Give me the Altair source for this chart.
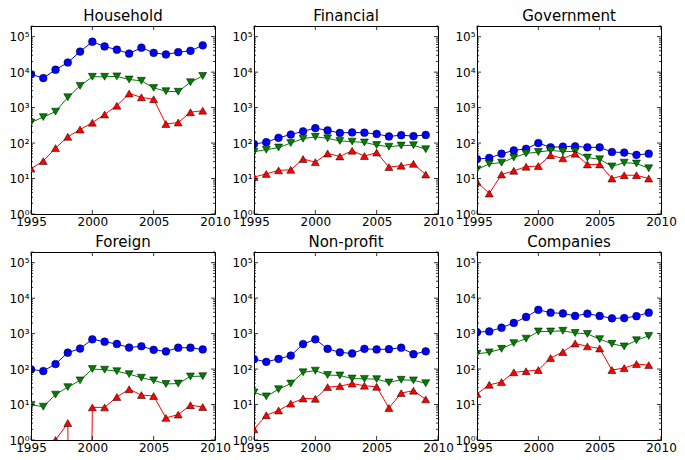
import altair as alt
import pandas as pd

years = list(range(1995, 2010))
series_names = ["circle series", "down series", "up series"]
series_colors = ["#0000ff", "#008000", "#ff0000"]
series_shapes = ["circle", "triangle-down", "triangle-up"]
series_sizes = [60, 64, 64]

household_circle = [8700, 6800, 11700, 18700, 38000, 72000, 53000, 43000, 33500, 49000, 35000, 31500, 36500, 40000, 57000]
household_down = [380, 540, 770, 1950, 4100, 7400, 7400, 7600, 6200, 5700, 3600, 2900, 2800, 5200, 7800]
household_up = [19, 31, 72, 150, 240, 375, 640, 1130, 2500, 1950, 1720, 345, 380, 740, 820]

financial_circle = [94, 106, 141, 174, 214, 264, 228, 193, 200, 196, 181, 154, 167, 157, 170]
financial_down = [57, 65, 75, 100, 133, 150, 136, 115, 110, 104, 88, 79, 85, 87, 67]
financial_up = [11, 13.5, 17, 17.6, 35.5, 29, 51, 42, 61, 43, 54, 21, 23, 26, 13]

government_circle = [35.5, 38, 50, 62, 69, 100, 76, 79, 81, 76, 76, 56, 54, 46.5, 50]
government_down = [18, 26, 28, 39, 51, 56, 62, 58, 58, 39, 35, 22, 28, 26.5, 19.5]
government_up = [8, 3.8, 13, 16.5, 21.6, 22.5, 45.5, 37, 50, 25, 25, 10, 12.4, 12.4, 10]

foreign_circle = [98, 88, 139, 290, 380, 690, 590, 510, 405, 440, 350, 315, 400, 400, 357]
foreign_down = [9.8, 8.7, 19, 31, 48, 100, 96, 87, 72, 57, 48, 38, 39, 62, 63]
foreign_up = [0, 0, 1, 3, 0, 8.3, 8.3, 16.3, 27, 18.5, 17.4, 4.2, 5.2, 9.6, 8.5]

nonprofit_circle = [190, 160, 194, 240, 507, 690, 372, 296, 275, 372, 357, 364, 400, 263, 316]
nonprofit_down = [22, 17, 27, 39, 81, 90, 68, 66, 54, 53, 52, 42, 50, 48, 40]
nonprofit_up = [2.0, 5.0, 6.8, 10.6, 14.8, 14.5, 31, 33, 39, 34, 31.6, 8, 21, 24.6, 14]

companies_circle = [1100, 1150, 1470, 2000, 2950, 4700, 3900, 3700, 3150, 3650, 3150, 2700, 2750, 3100, 3900]
companies_down = [270, 296, 372, 540, 720, 1150, 1150, 1200, 1040, 980, 700, 515, 435, 650, 860]
companies_up = [20, 36, 43, 81, 87, 94, 205, 303, 527, 437, 380, 94, 107, 139, 129]

panel_titles = ["Household", "Financial", "Government", "Foreign", "Non-profit", "Companies"]
panel_data = [
    (household_circle, household_down, household_up),
    (financial_circle, financial_down, financial_up),
    (government_circle, government_down, government_up),
    (foreign_circle, foreign_down, foreign_up),
    (nonprofit_circle, nonprofit_down, nonprofit_up),
    (companies_circle, companies_down, companies_up),
]

x_tick_values = [1995, 2000, 2005, 2010]
y_major_values = [1, 10, 100, 1000, 10000, 100000]
y_minor_values = [m * 10 ** k for k in range(0, 5) for m in range(2, 10)] + [200000]

W = 184
H = 188
FONT = "DejaVu Sans"

xscale = alt.Scale(domain=[1995, 2010], nice=False, zero=False)
yscale = alt.Scale(type="log", domain=[1, 200000], nice=False)

sup_expr = "'10' + ['\u2070','\u00b9','\u00b2','\u00b3','\u2074','\u2075'][round(log(datum.value)/LN10)]"

xaxis = alt.Axis(values=x_tick_values, format="d", labelFlush=False, labelBound=False,
                 labelOverlap=False, labelPadding=2)
yaxis = alt.Axis(values=y_major_values, labelExpr=sup_expr, labelOverlap=False,
                 labelFlush=False, labelBound=False, labelPadding=2)
X = alt.X("year:Q", scale=xscale, title=None, axis=xaxis)
Y = alt.Y("yv:Q", scale=yscale, title=None, axis=yaxis)


def tick_layers():
    xt = pd.DataFrame({"year": x_tick_values})
    ymaj = pd.DataFrame({"yv": y_major_values})
    ymin = pd.DataFrame({"yv": y_minor_values})
    rule = dict(color="black", strokeWidth=0.8)
    return [
        alt.Chart(xt).mark_rule(**rule).encode(x=X, y=alt.value(H), y2=alt.value(H - 4)),
        alt.Chart(xt).mark_rule(**rule).encode(x=X, y=alt.value(0), y2=alt.value(4)),
        alt.Chart(ymaj).mark_rule(**rule).encode(y=Y, x=alt.value(0), x2=alt.value(4)),
        alt.Chart(ymaj).mark_rule(**rule).encode(y=Y, x=alt.value(W - 4), x2=alt.value(W)),
        alt.Chart(ymin).mark_rule(**rule).encode(y=Y, x=alt.value(0), x2=alt.value(2)),
        alt.Chart(ymin).mark_rule(**rule).encode(y=Y, x=alt.value(W - 2), x2=alt.value(W)),
    ]


def panel(title, values):
    rows = []
    for sname, vals in zip(series_names, values):
        for yr, v in zip(years, vals):
            rows.append({"year": yr, "series": sname, "value": v})
    df = pd.DataFrame(rows)
    base = alt.Chart(df).transform_calculate(yv="datum.value > 0 ? datum.value : 1e-30")
    layers = []
    for sname, color, shape, size in zip(series_names, series_colors, series_shapes, series_sizes):
        b = base.transform_filter(alt.datum.series == sname)
        layers.append(b.mark_line(color=color, strokeWidth=1, clip=True).encode(x=X, y=Y))
        layers.append(b.mark_point(shape=shape, filled=True, fill=color, stroke="black",
                                   strokeWidth=0.5, size=size, opacity=1, clip=True).encode(x=X, y=Y))
    return alt.layer(*layers, *tick_layers()).properties(
        width=W, height=H,
        title=alt.TitleParams(title, fontSize=15, font=FONT, fontWeight="normal", offset=2, color="black"),
    )


charts = [panel(t, d) for t, d in zip(panel_titles, panel_data)]
row1 = alt.hconcat(*charts[:3], spacing=0)
row2 = alt.hconcat(*charts[3:], spacing=0)
chart = alt.vconcat(row1, row2, spacing=6).properties(padding=0).configure_view(
    stroke="black", strokeWidth=1
).configure_axis(
    domain=False, ticks=False, grid=False, labelFont=FONT, labelFontSize=12,
    labelColor="black"
)

chart.save("out.html", embed_options={"renderer": "svg", "actions": False})
